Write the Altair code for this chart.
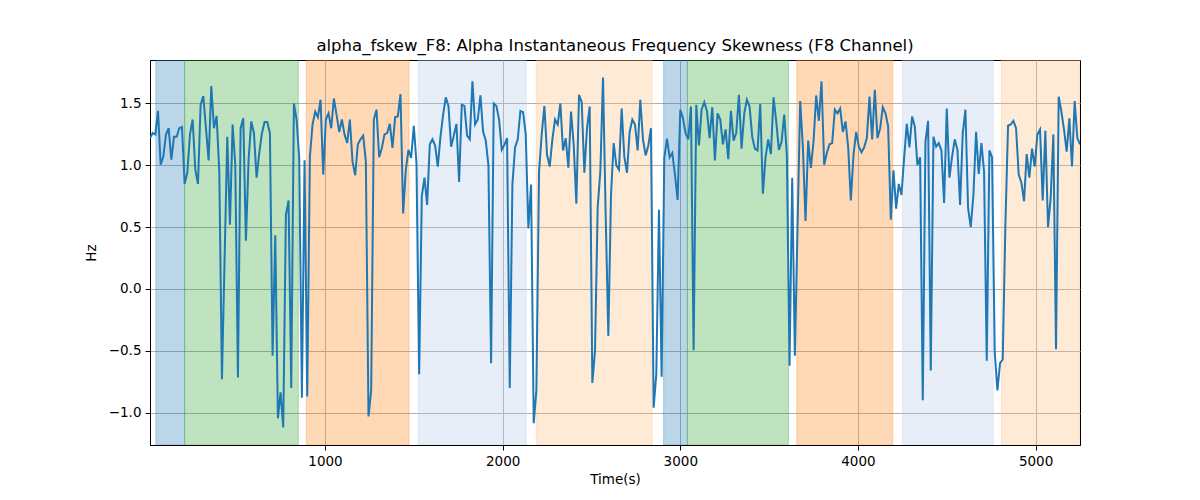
import altair as alt
import pandas as pd

# samples every 15 s
time_s = list(range(15, 5251, 15))

skew_hz = [
    1.22, 1.26, 1.25, 1.44, 1.005, 1.07, 1.25, 1.30, 1.045, 1.23,
    1.23, 1.30, 1.31, 0.85, 0.94, 1.25, 1.37, 0.965, 0.85, 1.49,
    1.56, 1.30, 1.04, 1.64, 1.30, 1.40, 0.95, -0.73, 0.25, 1.23,
    0.52, 1.33, 1.005, -0.715, 1.30, 1.38, 0.39, 1.045, 1.355, 1.26,
    0.90, 1.10, 1.26, 1.35,
    1.35, 1.26, -0.54, 0.435, -1.045, -0.835, -1.12, 0.60, 0.715, -0.80,
    1.50, 1.37, 1.06, -0.88, 1.04, -0.87, 1.07, 1.33, 1.435, 1.39,
    1.53, 0.925, 1.37, 1.42, 1.30, 1.54, 1.41, 1.27, 1.37, 1.25,
    1.18, 1.37, 1.03, 0.92, 1.17, 1.21, 1.24, 1.03, -1.03, -0.82,
    1.37, 1.45, 1.065,
    1.14, 1.25, 1.26, 1.335, 1.14, 1.39, 1.395, 1.575, 0.61, 0.965,
    1.125, 1.06, 1.32, 1.02, -0.69, 0.75, 0.90, 0.68, 1.17, 1.21,
    1.16, 0.99, 1.23, 1.41, 1.55, 1.48, 1.15, 1.24, 1.335, 0.865,
    1.49, 1.48, 1.24, 1.21, 1.68, 1.33, 1.37, 1.565, 1.27, 1.20,
    1.00, -0.60, 1.50,
    1.48, 1.37, 1.125, 1.165, 1.22, -0.80, 0.845, 1.145, 1.21, 1.44,
    1.43, 1.25, 0.49, 0.845, -1.085, -0.82, 0.95, 1.25, 1.48, 1.085,
    0.99, 1.21, 1.37, 1.33, 1.50, 1.12, 1.22, 0.98, 1.435, 1.165,
    0.69, 1.57, 1.51, 0.94, 1.30, 1.475, -0.76, -0.50, 0.66, 0.95,
    1.71, 0.60, -0.38,
    0.76, 1.18, 1.00, 0.965, 1.46, 1.07, 0.94, 1.27, 1.37, 1.33,
    1.12, 1.53, 1.21, 1.08, 1.16, 1.30, -0.96, -0.69, 0.64, -0.71,
    1.06, 1.215, 1.065, 1.10, 0.925, 0.72, 1.45, 1.38, 1.26, 1.21,
    1.475, -0.495, 1.49, 1.16, 1.45, 1.51, 1.44, 1.22, 1.47, 1.04,
    1.42, 1.37, 1.17,
    1.29, 1.05, 1.44, 1.20, 1.26, 1.57, 1.135, 1.42, 1.53, 1.475,
    1.23, 1.135, 1.12, 1.495, 0.77, 1.065, 1.21, 1.09, 1.55, 1.355,
    1.125, 1.19, 1.41, 1.085, -0.62, 0.90, -0.54, 0.50, 1.52, 1.15,
    0.55, 1.20, 0.98, 1.19, 1.565, 1.36, 1.68, 1.005, 1.10, 1.17,
    1.18, 1.45, 1.42,
    1.46, 1.27, 1.355, 1.15, 0.715, 1.085, 1.27, 1.15, 1.105, 1.145,
    1.22, 1.555, 1.21, 1.61, 1.22, 1.30, 1.47, 1.42, 1.315, 0.56,
    0.96, 0.65, 0.85, 0.76, 1.06, 1.335, 1.145, 1.395, 1.315, 1.00,
    1.065, -0.90, 1.19, 1.36, -0.66, 1.23, 1.15, 1.18, 1.12, 0.695,
    1.46, 0.90, 1.07, 1.21,
    1.125, 0.68, 1.26, 1.45, 0.655, 0.50, 0.76, 1.27, 0.93, 1.18,
    0.95, -0.58, 1.12, 1.065, -0.51, -0.82, -0.60, -0.57, 0.52, 1.32,
    1.33, 1.36, 1.30, 0.925, 0.86, 0.71, 1.09, 0.90, 1.135, 0.99,
    1.25, 1.29, 0.715, 1.28, 0.50, 0.735, 1.25, -0.487, 1.555, 1.435,
    1.29, 1.11, 1.38, 0.99, 1.52, 1.22, 1.17,
]

# shaded stages
span_start = [48, 210, 895, 1525, 2189, 2906, 3040, 3656, 4250, 4807]
span_end = [210, 850, 1473, 2133, 2842, 3040, 3609, 4196, 4762, 5250]
span_kind = ["a", "b", "c", "d", "e", "a", "b", "c", "d", "e"]
kind_names = ["a", "b", "c", "d", "e"]
kind_colors = ["#1f77b4", "#2ca02c", "#ff7f0e", "#aec7e8", "#ffbb78"]

n = min(len(time_s), len(skew_hz))
df = pd.DataFrame({"t": time_s[:n], "v": skew_hz[:n]})
spans = pd.DataFrame({"start": span_start, "end": span_end, "kind": span_kind})

x_scale = alt.Scale(domain=[15, 5250], nice=False, zero=False)
y_scale = alt.Scale(domain=[-1.2615, 1.8515], nice=False, zero=False)

band = (
    alt.Chart(spans)
    .mark_rect(fillOpacity=0.3, strokeOpacity=0.3, strokeWidth=1, clip=True)
    .encode(
        x=alt.X("start:Q", scale=x_scale),
        x2="end:Q",
        color=alt.Color(
            "kind:N",
            scale=alt.Scale(domain=kind_names, range=kind_colors),
            legend=None,
        ),
        stroke=alt.Stroke(
            "kind:N",
            scale=alt.Scale(domain=kind_names, range=kind_colors),
            legend=None,
        ),
    )
)

line = (
    alt.Chart(df)
    .mark_line(color="#1f77b4", strokeWidth=2, clip=True)
    .encode(
        x=alt.X(
            "t:Q",
            scale=x_scale,
            title="Time(s)",
            axis=alt.Axis(values=[1000, 2000, 3000, 4000, 5000], format="d"),
        ),
        y=alt.Y(
            "v:Q",
            scale=y_scale,
            title="Hz",
            axis=alt.Axis(values=[-1.0, -0.5, 0.0, 0.5, 1.0, 1.5], format=".1f"),
        ),
    )
)

chart = (
    (band + line)
    .properties(
        width=930,
        height=385,
        autosize=alt.AutoSizeParams(type="none"),
        padding={"left": 142, "top": 52, "right": 112, "bottom": 47},
        title=alt.TitleParams(
            "alpha_fskew_F8: Alpha Instantaneous Frequency Skewness (F8 Channel)",
            font="DejaVu Sans",
            fontSize=16.5,
            fontWeight="normal",
            color="black",
            offset=6,
        ),
    )
    .configure_view(stroke="black", strokeWidth=1)
    .configure_axis(
        labelFont="DejaVu Sans",
        titleFont="DejaVu Sans",
        labelFontSize=13.5,
        titleFontSize=13.5,
        titleFontWeight="normal",
        labelColor="black",
        titleColor="black",
        domainColor="black",
        tickColor="black",
        tickSize=5,
        labelPadding=4,
        grid=True,
        gridColor="#b0b0b0",
        gridWidth=1,
    )
    .configure_axisX(titlePadding=5)
    .configure_axisY(titlePadding=10)
)

chart.save("out.html", embed_options={"renderer": "svg", "actions": False})
